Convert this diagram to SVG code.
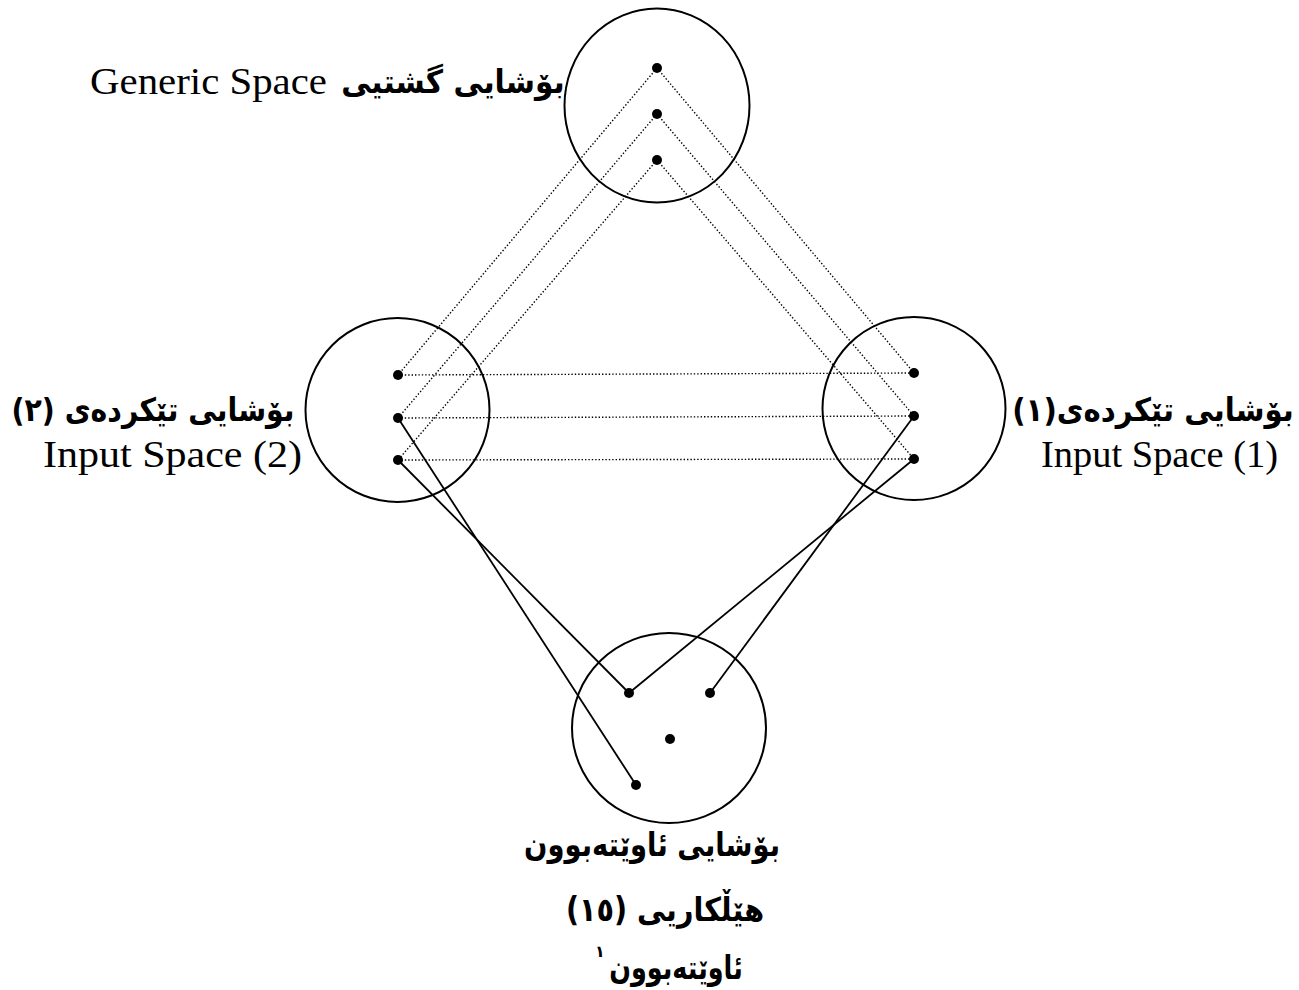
<svg xmlns="http://www.w3.org/2000/svg" width="1299" height="990" viewBox="0 0 1299 990">
<style>
.ring{fill:none;stroke:#000;stroke-width:2}
.pt{fill:#000}
.dot{stroke:#000;stroke-width:1.4;stroke-dasharray:1.4 2;fill:none}
.sol{stroke:#000;stroke-width:1.8;fill:none}
.lat{font-family:"Liberation Serif",serif;font-size:37px;fill:#000}
.ku{font-family:"DejaVu Sans",sans-serif;font-weight:bold;font-size:30px;fill:#000}
</style>
<rect width="1299" height="990" fill="#fff"/>
<g id="connectors">
<line class="dot" x1="657" y1="68" x2="398" y2="375"/>
<line class="dot" x1="657" y1="114" x2="398" y2="418"/>
<line class="dot" x1="657" y1="160" x2="398" y2="460"/>
<line class="dot" x1="657" y1="68" x2="914" y2="373"/>
<line class="dot" x1="657" y1="114" x2="914" y2="416"/>
<line class="dot" x1="657" y1="160" x2="914" y2="459"/>
<line class="dot" x1="398" y1="375" x2="914" y2="373"/>
<line class="dot" x1="398" y1="418" x2="914" y2="416"/>
<line class="dot" x1="398" y1="460" x2="914" y2="459"/>
<line class="sol" x1="398" y1="418" x2="636" y2="785"/>
<line class="sol" x1="398" y1="460" x2="629" y2="693"/>
<line class="sol" x1="914" y1="459" x2="629" y2="693"/>
<line class="sol" x1="914" y1="416" x2="710" y2="693"/>
</g>
<g id="generic-space">
<ellipse class="ring" cx="657" cy="105.5" rx="92.5" ry="97"/>
<circle class="pt" cx="657" cy="68" r="5"/>
<circle class="pt" cx="657" cy="114" r="5"/>
<circle class="pt" cx="657" cy="160" r="5"/>
<text class="lat" x="90" y="94" textLength="237" lengthAdjust="spacingAndGlyphs">Generic Space</text>
<text class="ku" transform="translate(453,93) scale(0.99,1.08)" text-anchor="middle" direction="rtl">بۆشایی گشتیی</text>
</g>
<g id="input-space-2">
<circle class="ring" cx="397.5" cy="410" r="92"/>
<circle class="pt" cx="398" cy="375" r="5"/>
<circle class="pt" cx="398" cy="418" r="5"/>
<circle class="pt" cx="398" cy="460" r="5"/>
<text class="ku" transform="translate(153,421) scale(0.946,1.08)" text-anchor="middle" direction="rtl">بۆشایی تێکردەی (٢)</text>
<text class="lat" x="43" y="467" textLength="259" lengthAdjust="spacingAndGlyphs">Input Space (2)</text>
</g>
<g id="input-space-1">
<circle class="ring" cx="914" cy="408.5" r="91.5"/>
<circle class="pt" cx="914" cy="373" r="5"/>
<circle class="pt" cx="914" cy="416" r="5"/>
<circle class="pt" cx="914" cy="459" r="5"/>
<text class="ku" transform="translate(1153,421) scale(0.975,1.08)" text-anchor="middle" direction="rtl">بۆشایی تێکردەی(١)</text>
<text class="lat" x="1041" y="467" textLength="237" lengthAdjust="spacingAndGlyphs">Input Space (1)</text>
</g>
<g id="blended-space">
<ellipse class="ring" cx="669" cy="728" rx="97" ry="95"/>
<circle class="pt" cx="629" cy="693" r="5"/>
<circle class="pt" cx="710" cy="693" r="5"/>
<circle class="pt" cx="670" cy="739" r="5"/>
<circle class="pt" cx="636" cy="785" r="5"/>
<text class="ku" transform="translate(652,856) scale(0.914,1.1)" text-anchor="middle" direction="rtl">بۆشایی ئاوێتەبوون</text>
<text class="ku" transform="translate(665,921) scale(0.956,1.1)" text-anchor="middle" direction="rtl">هێڵکاریی (١٥)</text>
<text class="ku" transform="translate(676,979) scale(0.85,1.1)" text-anchor="middle" direction="rtl">ئاوێتەبوون</text>
<text class="ku" x="600" y="957" text-anchor="middle" style="font-size:16px">١</text>
</g>
</svg>
